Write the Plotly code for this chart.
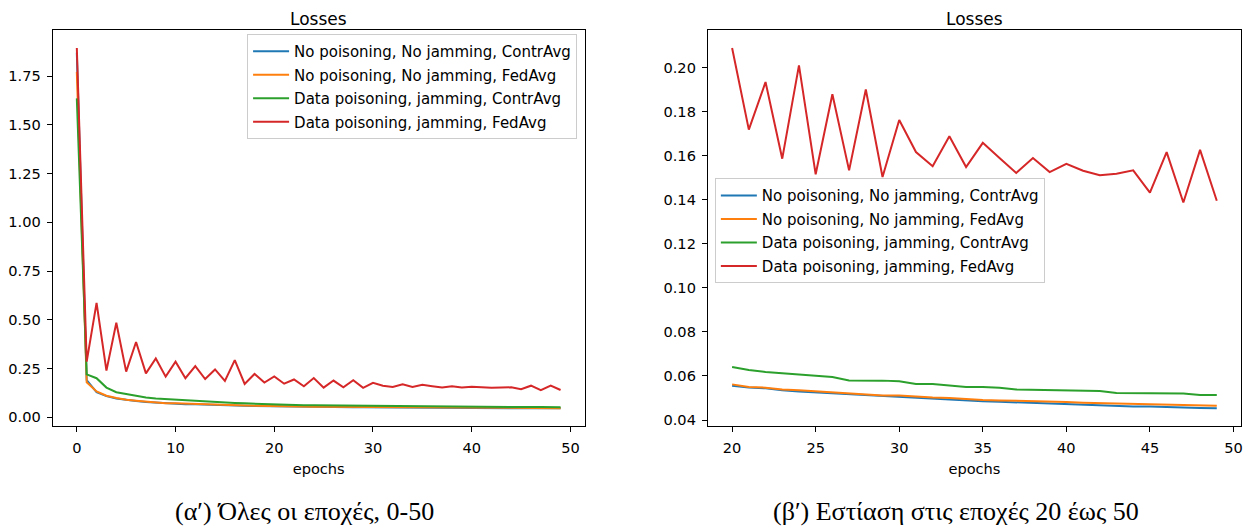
import plotly.graph_objects as go

# the page body adds an 8px margin, so the figure is drawn 8px smaller and
# all reference pixel positions are shifted by that margin
OFF = 8
W, H = 1252 - OFF, 529 - OFF


def px(x):
    return (x - OFF) / W


def py(y):
    return 1 - (y - OFF) / H


epochs = list(range(50))
names = ["No poisoning, No jamming, ContrAvg",
         "No poisoning, No jamming, FedAvg",
         "Data poisoning, jamming, ContrAvg",
         "Data poisoning, jamming, FedAvg"]
colors = ["#1f77b4", "#ff7f0e", "#2ca02c", "#d62728"]

blue = [1.87, 0.190, 0.128, 0.108, 0.096, 0.088, 0.083, 0.078, 0.075, 0.071,
        0.069, 0.067, 0.066, 0.064, 0.063, 0.062, 0.061, 0.059, 0.058, 0.057,
        0.0556, 0.0548, 0.0544, 0.0535, 0.0530, 0.0526, 0.0521, 0.0517, 0.0512, 0.0508,
        0.0503, 0.0500, 0.0497, 0.0494, 0.0489, 0.0485, 0.0483, 0.0480, 0.0477, 0.0474,
        0.0471, 0.0470, 0.0468, 0.0465, 0.0462, 0.0461, 0.0458, 0.0456, 0.0455, 0.0453]
orange = [1.772, 0.179, 0.132, 0.110, 0.098, 0.089, 0.084, 0.079, 0.076, 0.072,
          0.071, 0.069, 0.067, 0.066, 0.064, 0.063, 0.062, 0.060, 0.059, 0.0575,
          0.0562, 0.0550, 0.0547, 0.0539, 0.0535, 0.0530, 0.0527, 0.0523, 0.0517, 0.0512,
          0.0511, 0.0506, 0.0502, 0.0500, 0.0495, 0.0491, 0.0489, 0.0488, 0.0486, 0.0486,
          0.0482, 0.0479, 0.0477, 0.0474, 0.0473, 0.0471, 0.0470, 0.0468, 0.0467, 0.0465]
green = [1.636, 0.220, 0.200, 0.152, 0.128, 0.118, 0.108, 0.101, 0.096, 0.093,
         0.089, 0.086, 0.082, 0.079, 0.077, 0.075, 0.073, 0.071, 0.069, 0.067,
         0.0641, 0.0627, 0.0618, 0.0612, 0.0608, 0.0603, 0.0595, 0.0580, 0.0580, 0.0579,
         0.0576, 0.0564, 0.0564, 0.0558, 0.0550, 0.0550, 0.0547, 0.0539, 0.0538, 0.0536,
         0.0535, 0.0532, 0.0532, 0.0523, 0.0523, 0.0520, 0.0520, 0.0521, 0.0514, 0.0514]
red = [1.895, 0.285, 0.587, 0.239, 0.485, 0.234, 0.386, 0.225, 0.301, 0.208,
       0.285, 0.200, 0.262, 0.196, 0.245, 0.186, 0.293, 0.171, 0.222, 0.178,
       0.2090, 0.1719, 0.1935, 0.1587, 0.2011, 0.1516, 0.1880, 0.1534, 0.1901, 0.1504,
       0.1763, 0.1617, 0.1553, 0.1689, 0.1549, 0.1659, 0.1590, 0.1522, 0.1590, 0.1526,
       0.1564, 0.1532, 0.1512, 0.1519, 0.1534, 0.1433, 0.1617, 0.1388, 0.1627, 0.1396]

series = [blue, orange, green, red]
zoom_start = 20

title_text = "Losses"
xlabel = "epochs"
caption_a = "(αʹ) Όλες οι εποχές, 0-50"
caption_b = "(βʹ) Εστίαση στις εποχές 20 έως 50"


def mpl_range(vals, m=0.05):
    lo, hi = min(vals), max(vals)
    span = hi - lo
    return [lo - m * span, hi + m * span]


fig = go.Figure()
for i, (name, col, ys) in enumerate(zip(names, colors, series)):
    fig.add_trace(go.Scatter(x=epochs, y=ys, mode="lines", name=name,
                             line=dict(color=col, width=2), xaxis="x", yaxis="y",
                             legend="legend", legendgroup="a%d" % i))
for i, (name, col, ys) in enumerate(zip(names, colors, series)):
    fig.add_trace(go.Scatter(x=epochs[zoom_start:], y=ys[zoom_start:], mode="lines", name=name,
                             line=dict(color=col, width=2), xaxis="x2", yaxis="y2",
                             legend="legend2", legendgroup="b%d" % i))

font = dict(family="DejaVu Sans", size=14.6, color="black")
leg_font = dict(family="DejaVu Sans", size=15, color="black")
axis_common = dict(showline=True, mirror=True, linecolor="black", linewidth=1,
                   ticks="outside", ticklen=5, tickwidth=1, tickcolor="black",
                   showgrid=False, zeroline=False, tickfont=font, ticklabelstandoff=3)

all_left = [v for s in series for v in s]
all_right = [v for s in series for v in s[zoom_start:]]

yd = [py(428), py(30)]
leg_common = dict(bgcolor="rgba(255,255,255,0.8)", bordercolor="#cccccc", borderwidth=1,
                  font=leg_font, tracegroupgap=1, itemwidth=36)
fig.update_layout(
    width=W, height=H, margin=dict(l=0, r=0, t=0, b=0),
    paper_bgcolor="white", plot_bgcolor="white", font=font,
    xaxis=dict(domain=[px(52.7), px(585.7)], range=mpl_range(epochs), dtick=10, tick0=0,
               title=dict(text=xlabel, font=font, standoff=8), anchor="y", **axis_common),
    yaxis=dict(domain=yd, range=mpl_range(all_left), dtick=0.25, tick0=0, tickformat=".2f",
               anchor="x", **axis_common),
    xaxis2=dict(domain=[px(709), px(1243)], range=mpl_range(epochs[zoom_start:]), dtick=5, tick0=0,
                title=dict(text=xlabel, font=font, standoff=8), anchor="y2", **axis_common),
    yaxis2=dict(domain=yd, range=mpl_range(all_right), dtick=0.02, tick0=0, tickformat=".2f",
                anchor="x2", **axis_common),
    legend=dict(x=px(578), y=py(34), xanchor="right", yanchor="top", **leg_common),
    legend2=dict(x=px(716), y=py(179), xanchor="left", yanchor="top", **leg_common),
    showlegend=True,
)

title_font = dict(family="DejaVu Sans", size=17, color="black")
for xc in [(52.7 + 585.7) / 2, (709 + 1243) / 2]:
    fig.add_annotation(text=title_text, x=px(xc), y=1, xref="paper", yref="paper",
                       xanchor="center", yanchor="top", borderpad=0, showarrow=False,
                       font=title_font)

cap_font = dict(family="Liberation Serif", size=26, color="black")
fig.add_annotation(text=caption_a, x=px(305), y=py(513), xref="paper", yref="paper",
                   xanchor="center", yanchor="middle", showarrow=False, font=cap_font)
fig.add_annotation(text=caption_b, x=px(958), y=py(513), xref="paper", yref="paper",
                   xanchor="center", yanchor="middle", showarrow=False, font=cap_font)

fig.write_html("out.html")
